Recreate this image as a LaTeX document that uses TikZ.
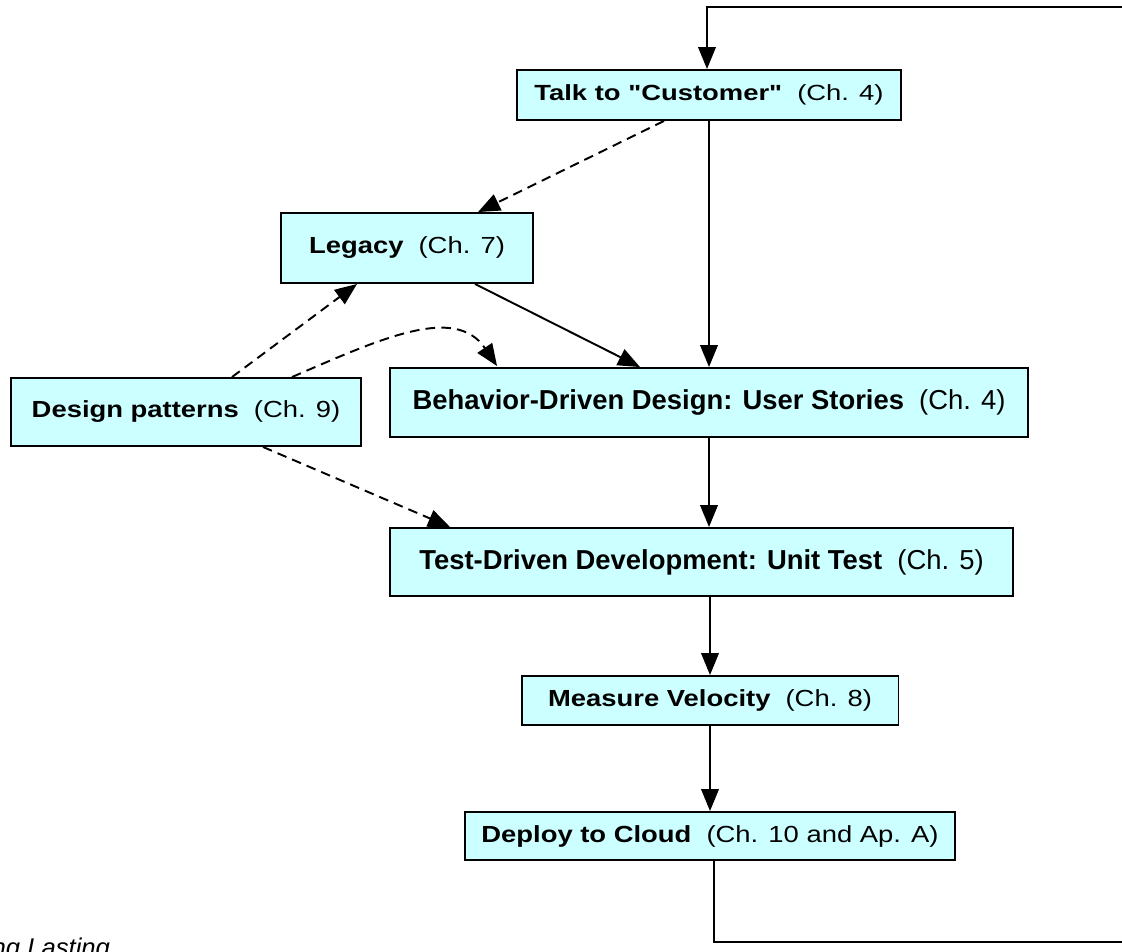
\documentclass[tikz,border=0pt]{standalone}
\usepackage{fontspec}
\setmainfont{Liberation Sans}
\usetikzlibrary{arrows.meta,calc}
\definecolor{boxfill}{RGB}{204,255,255}

% bold face loaded without the TeX mapping, so " stays a straight quote
\font\straightq="Liberation Sans/B" at 15.6pt
\newcommand{\sq}{{\straightq"}}

% bold step name, wide gap, regular chapter reference; #3 = vertical squash
\newcommand{\steplabel}[3]{\scalebox{1}[#3]{\textbf{#1}\hspace{0.55em}#2}}

\tikzset{
  stage/.style={draw=black, line width=1.1pt, fill=boxfill, inner sep=0pt,
                font=\fontsize{15.6}{18}\selectfont},
  flow/.style={line width=1.1pt, -{Triangle[length=12.5pt,width=10pt]}},
  hint/.style={flow, dash pattern=on 5.5pt off 3.5pt},
  loopline/.style={line width=1.1pt},
}

\begin{document}
\begin{tikzpicture}[x=0.02cm,y=-0.02cm]
\useasboundingbox (0,0) rectangle (1122,951);
\clip (0,0) rectangle (1122,951);

% process steps
\node[stage, minimum width=7.68cm, minimum height=1.0cm] (talk) at (709,95)
  {\steplabel{Talk to \sq Customer\sq}{(Ch. 4)}{0.8}};
\node[stage, minimum width=5.04cm, minimum height=1.4cm] (legacy) at (407,248)
  {\steplabel{Legacy}{(Ch. 7)}{0.85}};
\node[stage, minimum width=7.0cm, minimum height=1.36cm] (design) at (186,412)
  {\steplabel{Design patterns}{(Ch. 9)}{0.85}};
\node[stage, minimum width=12.76cm, minimum height=1.38cm] (bdd) at (709,402.5)
  {\steplabel{Behavior-Driven Design: User Stories}{(Ch. 4)}{1}};
\node[stage, minimum width=12.46cm, minimum height=1.36cm] (tdd) at (701.5,562)
  {\steplabel{Test-Driven Development: Unit Test}{(Ch. 5)}{1}};
\node[stage, minimum width=7.54cm, minimum height=0.98cm] (measure) at (710,700.5)
  {\steplabel{Measure Velocity}{(Ch. 8)}{0.85}};
\node[stage, minimum width=9.82cm, minimum height=0.96cm] (deploy) at (710,836)
  {\steplabel{Deploy to Cloud}{(Ch. 10 and Ap. A)}{0.85}};

% main flow
\draw[flow] (talk.south) -- (bdd.north);
\draw[flow] ([xshift=1.36cm]legacy.south) -- ([xshift=-1.38cm]bdd.north);
\draw[flow] (bdd.south) -- (bdd.south |- tdd.north);
\draw[flow] (measure.north |- tdd.south) -- (measure.north);
\draw[flow] (measure.south) -- (deploy.north);

% optional influences
\draw[hint] ([xshift=-0.9cm]talk.south) -- ([xshift=1.42cm]legacy.north);
\draw[hint] ([xshift=0.92cm]design.north) -- ([xshift=-1.0cm]legacy.south);
\draw[hint] ([xshift=2.12cm]design.north) .. controls +(88,-38) and +(-42,-62)
  .. ([xshift=-4.24cm,yshift=0.02cm]bdd.north);
\draw[hint] ([xshift=1.54cm]design.south) -- ([xshift=-5.03cm]tdd.north);

% iteration loop back to the customer
\coordinate (loopout) at (1130,942);
\coordinate (loopin) at (1130,7);
\draw[loopline] ([xshift=0.08cm]deploy.south) -- ([xshift=0.08cm]deploy.south |- loopout) -- (loopout);
\draw[flow] (loopin) -- ([xshift=-0.04cm]talk.north |- loopin) -- ([xshift=-0.04cm]talk.north);

% caption fragment at the lower edge
\node[anchor=base west, inner sep=0pt, font=\itshape\fontsize{14.6}{17}\selectfont]
  (trail) at (-8.7,956.5) {ng Lasting};
\end{tikzpicture}
\end{document}
